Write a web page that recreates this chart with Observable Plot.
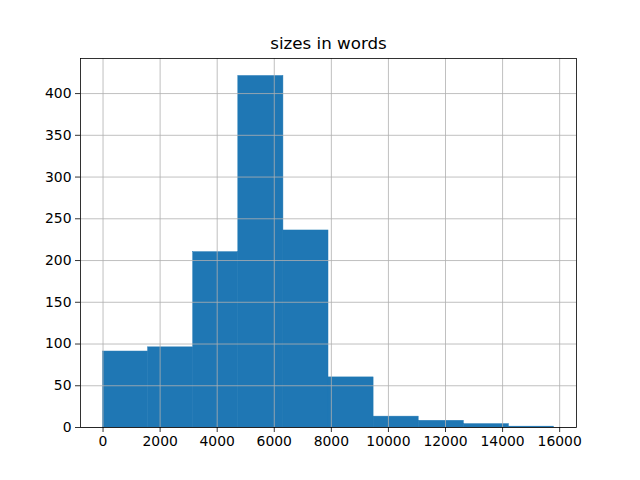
<!DOCTYPE html>
<html>
<head>
<meta charset="utf-8">
<script src="https://cdn.jsdelivr.net/npm/d3@7"></script>
<script src="https://cdn.jsdelivr.net/npm/@observablehq/plot@0.6"></script>
<style>
  html, body { margin: 0; padding: 0; background: white; }
</style>
</head>
<body>
<div id="chart"></div>
<script>
const title = "sizes in words";
const binEdges = [0, 1580, 3160, 4740, 6320, 7900, 9480, 11060, 12640, 14220, 15800];
const counts = [91, 96, 210, 421, 236, 60, 13, 8, 4, 1];
const xTicks = [0, 2000, 4000, 6000, 8000, 10000, 12000, 14000, 16000];
const yTicks = [0, 50, 100, 150, 200, 250, 300, 350, 400];

const bins = counts.map((c, i) => ({x1: binEdges[i], x2: binEdges[i + 1], count: c}));

const chart = Plot.plot({
  width: 640,
  height: 480,
  marginLeft: 80,
  marginRight: 64,
  marginTop: 58,
  marginBottom: 53,
  style: {fontFamily: "DejaVu Sans", fontSize: "13.9px", color: "black", background: "white"},
  x: {domain: [-790, 16590]},
  y: {domain: [0, 442]},
  marks: [
    Plot.rect(bins, {x1: "x1", x2: "x2", y1: 0, y2: "count", fill: "#1f77b4", stroke: "#1f77b4", strokeWidth: 0.5}),
    Plot.gridX(xTicks, {stroke: "#b0b0b0", strokeOpacity: 1, strokeWidth: 0.8}),
    Plot.gridY(yTicks, {stroke: "#b0b0b0", strokeOpacity: 1, strokeWidth: 0.8}),
    Plot.frame({stroke: "black", strokeWidth: 0.8}),
    Plot.axisX(xTicks, {tickSize: 5, tickPadding: 4, tickFormat: d => String(d), label: null, stroke: "black", strokeWidth: 0.8}),
    Plot.axisY(yTicks, {tickSize: 5, tickPadding: 4, tickFormat: d => String(d), label: null, stroke: "black", strokeWidth: 0.8}),
    Plot.text([title], {frameAnchor: "top", lineAnchor: "bottom", dy: -10, fontSize: 16.7, fill: "black"})
  ]
});
document.getElementById("chart").appendChild(chart);
</script>
</body>
</html>
